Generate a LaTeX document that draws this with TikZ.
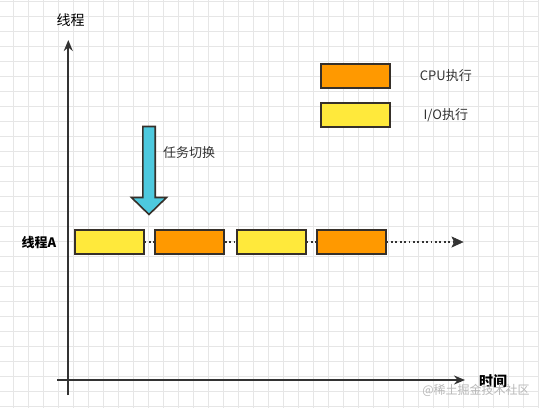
\documentclass[tikz,border=0pt]{standalone}
\usepackage{fontspec}
\setmainfont{Noto Sans CJK SC}
\usetikzlibrary{arrows.meta}
\definecolor{gridc}{HTML}{E6E6E6}
\definecolor{ink}{HTML}{333333}
\definecolor{cpuc}{HTML}{FF9900}
\definecolor{ioc}{HTML}{FFE93B}
\definecolor{boxline}{HTML}{36302A}
\definecolor{switchc}{HTML}{4DC9DE}
\definecolor{txt}{HTML}{333333}
\tikzset{
  bar/.style={draw=boxline, line width=1.6pt, minimum width=69pt, minimum height=24pt, inner sep=0pt},
  cpu/.style={bar, fill=cpuc},
  io/.style={bar, fill=ioc},
  axis/.style={draw=ink, line width=1.8pt, -{Stealth[length=11pt,width=9pt]}},
  dots/.style={draw=ink, line width=1.8pt, dash pattern=on 1.8pt off 2.6pt},
  lbl/.style={text=txt, font=\fontsize{13}{15}\selectfont, inner sep=0pt},
  axlbl/.style={text=black, font=\fontsize{14}{16}\selectfont, inner sep=0pt},
}
\begin{document}
\begin{tikzpicture}[x=1pt,y=-1pt]
\useasboundingbox (0,0) rectangle (539,408);
\fill[white] (0,0) rectangle (539,408);
% grid
\foreach \gx in {13.3,28.3,...,539} \draw[gridc, line width=0.7pt] (\gx,0) -- (\gx,408);
\foreach \gy in {1.7,16.7,...,408} \draw[gridc, line width=0.7pt] (0,\gy) -- (539,\gy);
% axes
\coordinate (vbot) at (68.3,395);
\coordinate (vtop) at (68.3,40);
\coordinate (hleft) at (57,380);
\coordinate (hright) at (465,380);
\draw[axis] (vbot) -- (vtop);
\draw[axis] (hleft) -- (hright);
\node[axlbl] (ylab) at (70.5,20.5) {线程};
\node[axlbl, font=\fontsize{14}{16}\selectfont\bfseries] (xlab) at (493,381) {时间};
\node[axlbl, font=\fontsize{13}{15}\selectfont\bfseries] (rowlab) at (39,242.5) {线程A};
% bars
\node[io]  (y1) at (109.3,242) {};
\node[cpu] (o1) at (189.5,242) {};
\node[io]  (y2) at (271.3,242) {};
\node[cpu] (o2) at (351.3,242) {};
\coordinate (tend) at (463,242);
\draw[dots] (y1.east) -- (o1.west);
\draw[dots] (o1.east) -- (y2.west);
\draw[dots] (y2.east) -- (o2.west);
\draw[dots] (o2.east) -- ([xshift=-10pt]tend);
\draw[draw=ink, fill=ink, line width=0.5pt] (tend) -- ++(-11,-5) -- ++(2.5,5) -- ++(-2.5,5) -- cycle;
% legend
\node[cpu] (lcpu) at (355.3,75.8) {};
\node[io]  (lio)  at (355.3,114.8) {};
\node[lbl] (tcpu) at (445.8,76) {CPU执行};
\node[lbl] (tio)  at (445.8,115) {I/O执行};
% task switch arrow
\draw[draw=boxline, fill=switchc, line width=1.6pt, line join=miter]
  (142.8,126.5) -- (155.2,126.5) -- (155.2,197.5) -- (166.5,197.5) -- (149,214.5)
  -- (131.5,197.5) -- (142.8,197.5) -- cycle;
\node[lbl] (tswitch) at (189,153) {任务切换};
% watermark
\node[text=black!28, font=\fontsize{12}{14}\selectfont, inner sep=0pt] (wm) at (476,390.5) {@稀土掘金技术社区};
\end{tikzpicture}
\end{document}
